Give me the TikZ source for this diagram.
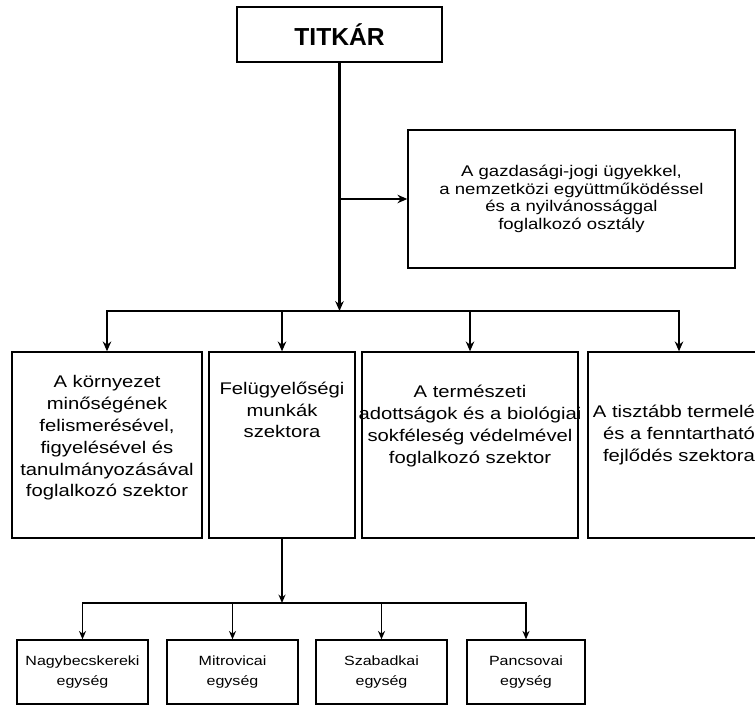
\documentclass[tikz,border=0pt]{standalone}
\usepackage{fontspec}
\setmainfont{Liberation Sans}
\newfontfamily\boxfont{Liberation Sans}[FakeStretch=1.2]
\usetikzlibrary{arrows.meta,positioning}
\tikzset{
	box/.style={draw, line width=0.9pt, inner sep=0pt},
	arr/.style={-{Stealth[length=7pt,width=6pt]}, line width=1.6pt},
	thinarr/.style={-{Stealth[length=6pt,width=5pt]}, line width=1.1pt},
	sectxt/.style={align=center, font=\boxfont\fontsize{12}{15.5}\selectfont},
	unittxt/.style={align=center, font=\boxfont\fontsize{9.5}{14}\selectfont}
}

\begin{document}
\begin{tikzpicture}[x=0.025cm, y=-0.025cm]
			\useasboundingbox (0,0) rectangle (755,707);
			%%%%% START %%%%%
			\node[box, minimum width=5.125cm, minimum height=1.375cm, font=\bfseries\fontsize{17.5}{20}\selectfont] (titkar) at (339.5, 34.5) {TITKÁR};
			
			\node[box, minimum width=8.175cm, minimum height=3.45cm, align=center, font=\boxfont\fontsize{11}{12.5}\selectfont] (gazd) at (571.5, 199) {A gazdasági-jogi ügyekkel,\\ a nemzetközi együttműködéssel\\ és a nyilvánossággal\\ foglalkozó osztály};
			
			\node[box, minimum width=4.75cm, minimum height=4.65cm] (kor) at (107, 445) {};
			\node[box, minimum width=3.65cm, minimum height=4.65cm] (fel) at (282, 445) {};
			\node[box, minimum width=5.4cm, minimum height=4.65cm] (ter) at (470, 445) {};
			\node[box, minimum width=4.55cm, minimum height=4.65cm] (tisz) at (679, 445) {};
			
			\node[sectxt] (kortxt) at (107, 438) {A környezet\\ minőségének\\ felismerésével,\\ figyelésével és\\ tanulmányozásával\\ foglalkozó szektor};
			\node[sectxt] (feltxt) at (282, 410) {Felügyelőségi\\ munkák\\ szektora};
			\node[sectxt] (tertxt) at (470, 426) {A természeti\\ adottságok és a biológiai\\ sokféleség védelmével\\ foglalkozó szektor};
			\node[sectxt] (tisztxt) at (679, 435) {A tisztább termelés\\ és a fenntartható\\ fejlődés szektora};
			
			\node[box, minimum width=3.275cm, minimum height=1.6cm, unittxt] (nagy) at (82.5, 672) {Nagybecskereki\\ egység};
			\node[box, minimum width=3.275cm, minimum height=1.6cm, unittxt] (mitro) at (232.5, 672) {Mitrovicai\\ egység};
			\node[box, minimum width=3.275cm, minimum height=1.6cm, unittxt] (szab) at (381.5, 672) {Szabadkai\\ egység};
			\node[box, minimum width=2.95cm, minimum height=1.6cm, unittxt] (panc) at (526, 672) {Pancsovai\\ egység};
			
			\coordinate (bus) at (339.5, 311);
			\coordinate (bus2) at (282, 603);
			
			\draw[arr] (titkar.south) -- (bus);
			\draw[arr] (titkar.south |- gazd.west) -- (gazd.west);
			\draw[line width=1.6pt, line cap=rect] (kor.north |- bus) -- (tisz.north |- bus);
			\foreach \b in {kor,fel,ter,tisz}
				\draw[arr] (\b.north |- bus) -- (\b.north);
			
			\draw[thinarr] (fel.south) -- (bus2);
			\draw[line width=1.1pt, line cap=rect] (nagy.north |- bus2) -- (panc.north |- bus2);
			\foreach \b in {nagy,mitro,szab,panc}
				\draw[thinarr] (\b.north |- bus2) -- (\b.north);
			%%%%% END %%%%%
\end{tikzpicture}
\end{document}
